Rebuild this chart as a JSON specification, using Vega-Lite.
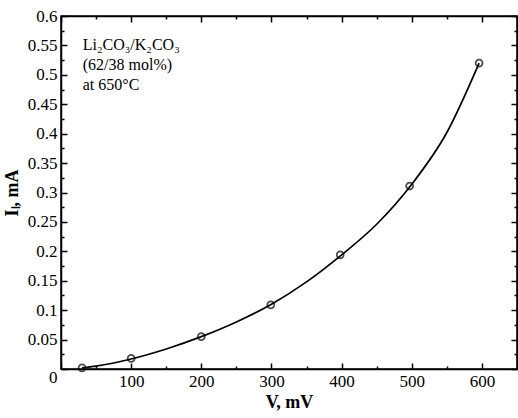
{
  "$schema": "https://vega.github.io/schema/vega-lite/v6.json",
  "width": 456,
  "height": 353,
  "autosize": "none",
  "padding": {"left": 61, "top": 16, "right": 1, "bottom": 49},
  "background": "white",
  "config": {
    "view": {"stroke": "black", "strokeWidth": 1.5},
    "font": "Liberation Serif",
    "axis": {
      "domainColor": "black",
      "domainWidth": 1.5,
      "tickColor": "black",
      "tickWidth": 1.5,
      "labelColor": "black",
      "labelFont": "Liberation Serif",
      "labelFontSize": 17,
      "titleFont": "Liberation Serif",
      "titleColor": "black",
      "titleFontSize": 18,
      "titleFontWeight": "bold",
      "grid": true,
      "gridOpacity": 0,
      "zindex": 1
    }
  },
  "datasets": {
    "points": [
      {"V": 30, "I": 0.002},
      {"V": 100, "I": 0.018},
      {"V": 200, "I": 0.055},
      {"V": 299, "I": 0.109},
      {"V": 398, "I": 0.194},
      {"V": 497, "I": 0.311},
      {"V": 596, "I": 0.520}
    ],
    "curve": [
      {"V": 30, "I": 0.002},
      {"V": 50, "I": 0.005},
      {"V": 100, "I": 0.017},
      {"V": 150, "I": 0.034},
      {"V": 200, "I": 0.055},
      {"V": 250, "I": 0.080},
      {"V": 300, "I": 0.110},
      {"V": 350, "I": 0.148},
      {"V": 400, "I": 0.194},
      {"V": 450, "I": 0.246},
      {"V": 500, "I": 0.314},
      {"V": 550, "I": 0.402},
      {"V": 596, "I": 0.520}
    ],
    "notes": [
      {"V": 31, "I": 0.551, "t": "Li₂CO₃/K₂CO₃"},
      {"V": 31, "I": 0.516, "t": "(62/38 mol%)"},
      {"V": 31, "I": 0.483, "t": "at 650°C"}
    ]
  },
  "layer": [
    {
      "data": {"name": "curve"},
      "mark": {"type": "line", "color": "black", "strokeWidth": 1.7, "interpolate": "monotone"},
      "encoding": {
        "x": {
          "field": "V", "type": "quantitative",
          "scale": {"domain": [0, 650], "nice": false, "zero": false},
          "axis": {
            "orient": "bottom",
            "title": "V, mV",
            "titlePadding": 4,
            "values": [0, 50, 100, 150, 200, 250, 300, 350, 400, 450, 500, 550, 600, 650],
            "tickSize": {"condition": {"test": "datum.value % 100 === 0", "value": -6}, "value": -3},
            "labelExpr": "datum.value % 100 === 0 && datum.value > 0 ? datum.label : ''",
            "labelPadding": 10
          }
        },
        "y": {
          "field": "I", "type": "quantitative",
          "scale": {"domain": [0, 0.6], "nice": false, "zero": false},
          "axis": {
            "orient": "left",
            "title": "Iₗ, mA",
            "titlePadding": 6,
            "format": ".3~f",
            "values": [0, 0.025, 0.05, 0.075, 0.1, 0.125, 0.15, 0.175, 0.2, 0.225, 0.25, 0.275, 0.3, 0.325, 0.35, 0.375, 0.4, 0.425, 0.45, 0.475, 0.5, 0.525, 0.55, 0.575, 0.6],
            "tickSize": {"condition": {"test": "round(datum.value*1000) % 50 === 0", "value": -6}, "value": -3},
            "labelExpr": "round(datum.value*1000) % 50 === 0 ? datum.label : ''",
            "labelBaseline": {"condition": {"test": "datum.value === 0", "value": "top"}, "value": "middle"},
            "labelPadding": 10
          }
        }
      }
    },
    {
      "data": {"name": "points"},
      "mark": {"type": "point", "shape": "circle", "filled": false, "color": "black", "size": 48, "strokeWidth": 1.8},
      "encoding": {
        "x": {
          "field": "V", "type": "quantitative",
          "axis": {
            "orient": "top",
            "title": null,
            "labels": false,
            "values": [0, 50, 100, 150, 200, 250, 300, 350, 400, 450, 500, 550, 600, 650],
            "tickSize": {"condition": {"test": "datum.value % 100 === 0", "value": -6}, "value": -3}
          }
        },
        "y": {
          "field": "I", "type": "quantitative",
          "axis": {
            "orient": "right",
            "title": null,
            "labels": false,
            "values": [0, 0.025, 0.05, 0.075, 0.1, 0.125, 0.15, 0.175, 0.2, 0.225, 0.25, 0.275, 0.3, 0.325, 0.35, 0.375, 0.4, 0.425, 0.45, 0.475, 0.5, 0.525, 0.55, 0.575, 0.6],
            "tickSize": {"condition": {"test": "round(datum.value*1000) % 50 === 0", "value": -6}, "value": -3}
          }
        }
      }
    },
    {
      "data": {"name": "notes"},
      "mark": {"type": "text", "align": "left", "baseline": "middle", "font": "Liberation Serif", "fontSize": 16, "color": "black"},
      "encoding": {
        "x": {"field": "V", "type": "quantitative", "axis": null},
        "y": {"field": "I", "type": "quantitative", "axis": null},
        "text": {"field": "t"}
      }
    }
  ],
  "resolve": {"axis": {"x": "independent", "y": "independent"}}
}
